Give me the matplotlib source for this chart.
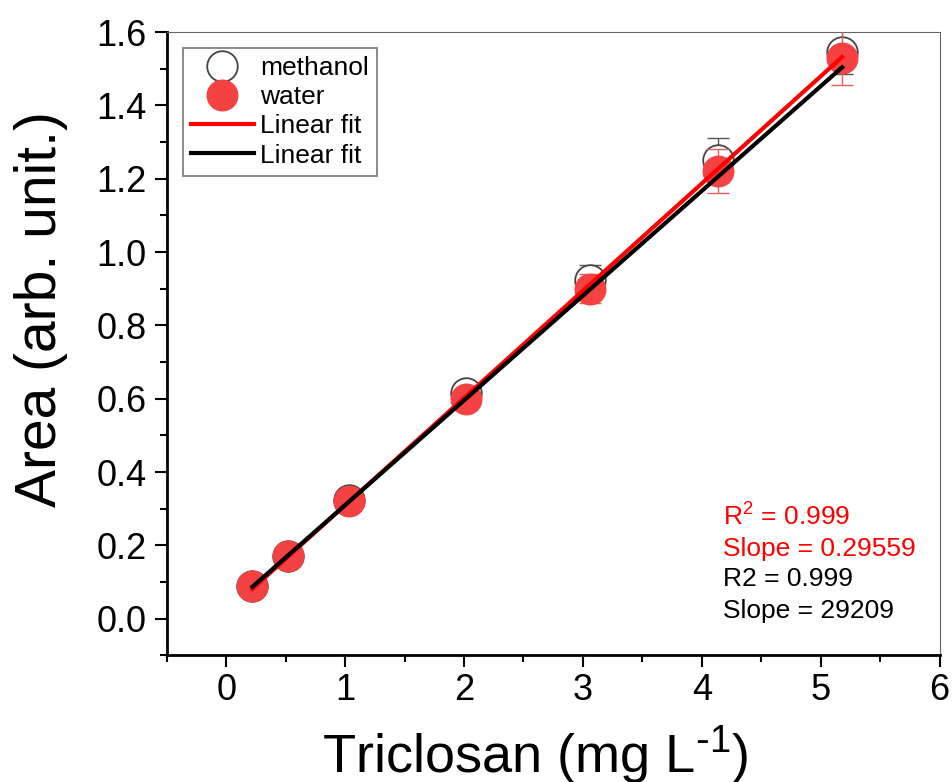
import numpy as np
import matplotlib
matplotlib.use("Agg")
import matplotlib.pyplot as plt
from matplotlib.ticker import MultipleLocator

plt.rcParams['font.family'] = ['Liberation Sans', 'DejaVu Sans']

# concentrations (mg/L)
conc = [0.22, 0.52, 1.03, 2.02, 3.06, 4.14, 5.18]
# peak areas
methanol = [0.09, 0.17, 0.325, 0.615, 0.925, 1.25, 1.545]
methanol_err = [0.01, 0.015, 0.02, 0.03, 0.04, 0.06, 0.06]
water = [0.09, 0.17, 0.32, 0.60, 0.90, 1.22, 1.53]
water_err = [0.01, 0.015, 0.02, 0.03, 0.04, 0.06, 0.075]

# fitted lines (slope, intercept) as drawn
fit_water = (0.2925, 0.017)
fit_methanol = (0.2857, 0.024)

red = '#f44141'

fig = plt.figure(figsize=(9.53, 7.82), dpi=100)
ax = fig.add_axes([0.175, 0.162, 0.811, 0.797])

ax.errorbar(conc, methanol, yerr=methanol_err, fmt='none', ecolor='#555555',
            elinewidth=1, capsize=8, zorder=2)
h1, = ax.plot(conc, methanol, 'o', ms=22, mfc='white', mec='#444444', mew=1.3,
              label='methanol', zorder=2)
ax.errorbar(conc, water, yerr=water_err, fmt='none', ecolor='#e06060',
            elinewidth=1, capsize=8, zorder=3)
h2, = ax.plot(conc, water, 'o', ms=22, mfc=red, mec=red, label='water', zorder=3)

# linear fits
x = np.array([conc[0], conc[-1]])
h3, = ax.plot(x, fit_water[0] * x + fit_water[1], color='red', lw=3, label='Linear fit', zorder=4)
h4, = ax.plot(x, fit_methanol[0] * x + fit_methanol[1], color='black', lw=3, label='Linear fit', zorder=5)

ax.set_xlim(-0.5, 6)
ax.set_ylim(-0.1, 1.6)
ax.xaxis.set_major_locator(MultipleLocator(1))
ax.xaxis.set_minor_locator(MultipleLocator(0.5))
ax.yaxis.set_major_locator(MultipleLocator(0.2))
ax.yaxis.set_minor_locator(MultipleLocator(0.1))
ax.tick_params(which='major', direction='out', length=8.5, width=1.5, labelsize=26, pad=4)
ax.tick_params(axis='y', which='major', pad=6)
ax.tick_params(which='minor', direction='out', length=5, width=1.5)
ax.spines['left'].set_linewidth(2)
ax.spines['bottom'].set_linewidth(2)
ax.spines['top'].set_color('#666666')
ax.spines['right'].set_color('#666666')

ax.set_xlabel(r'Triclosan (mg L$^{\mathregular{\text{-}1}}$)', fontsize=39)
ax.xaxis.set_label_coords(0.477, -0.11)
ax.set_ylabel('Area (arb. unit.)', fontsize=41)
ax.yaxis.set_label_coords(-0.128, 0.555)

leg = ax.legend(handles=[h1, h2, h3, h4], loc='upper left', fontsize=19, fancybox=False,
                edgecolor='#555555', borderpad=0.3, labelspacing=0.2, handlelength=2.4,
                handletextpad=0.25, borderaxespad=0.6)
leg.get_frame().set_linewidth(1.2)

ax.text(4.18, 0.281, r'R$^{\mathregular{2}}$ = 0.999', color='red', fontsize=19, va='center')
ax.text(4.18, 0.191, 'Slope = 0.29559', color='red', fontsize=19, va='center')
ax.text(4.18, 0.109, 'R2 = 0.999', color='black', fontsize=19, va='center')
ax.text(4.18, 0.022, 'Slope = 29209', color='black', fontsize=19, va='center')

fig.savefig('out.png', dpi=100)
